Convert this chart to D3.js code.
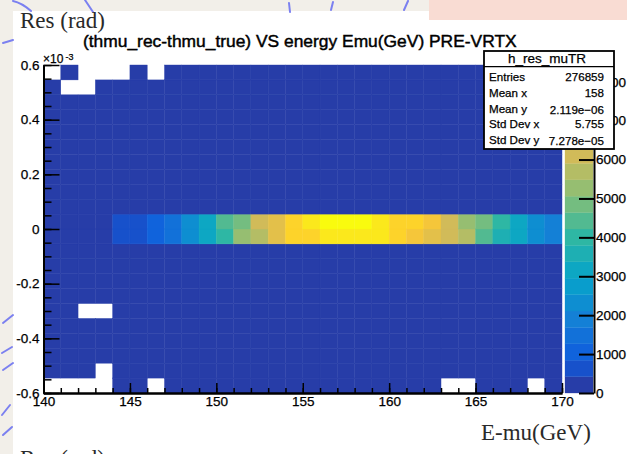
<!DOCTYPE html>
<html>
<head>
<meta charset="utf-8">
<script src="https://cdn.jsdelivr.net/npm/d3@7"></script>
<style>
  html, body { margin: 0; padding: 0; background: #f2efe9; }
  svg { display: block; }
  .root-text { font-family: "Liberation Sans", Arial, sans-serif; fill: #000; stroke: #000; stroke-width: 0.25px; }
  .serif { font-family: "Liberation Serif", "DejaVu Serif", serif; fill: #2a2a2a; }
</style>
</head>
<body>
<svg id="chart" width="627" height="454"></svg>
<script>
// ---- Histogram definition: energy (GeV) vs angular residual (rad) ----
const energyRange = [140, 170];
const energyBinCount = 30;
const resRange = [-0.0006, 0.0006];
const resBinCount = 22;

// Entries in the two residual rows next to zero, energy bins 144 .. 169
const bandFirstBin = 144;
const bandUpperRow = 11;   // residual row just above zero
const bandLowerRow = 10;   // residual row just below zero
const bandUpper = [610, 780, 1020, 1490, 2290, 3120, 4390, 4900, 6050, 6580, 7350, 7720, 8120,
                   8430, 8260, 7880, 7460, 7310, 6900, 6200, 5300, 4820, 3990, 3210, 2400, 1900];
const bandLower = [590, 760, 1000, 1460, 2270, 3100, 4100, 5250, 5720, 6500, 7300, 7500, 7700,
                   7800, 7850, 7650, 7420, 6880, 6600, 6150, 5600, 4450, 3600, 3150, 2350, 1880];

// Typical content of the sparsely populated tail bins
const tailCount = 28;
// Bins without entries: [energy bin low edge (GeV), residual row]
const emptyBins = [
  [140, 21], [142, 21], [143, 21], [144, 21], [146, 21],
  [141, 20], [142, 20],
  [142, 5], [143, 5],
  [143, 1],
  [140, 0], [141, 0], [142, 0], [143, 0], [146, 0], [163, 0], [164, 0], [168, 0]
];

// Axis ticks
const energyTicks = [140, 145, 150, 155, 160, 165, 170];
const resTicks = [-0.0006, -0.0004, -0.0002, 0, 0.0002, 0.0004, 0.0006];
const resTickLabels = ["-0.6", "-0.4", "-0.2", "0", "0.2", "0.4", "0.6"];
const countTicks = [0, 1000, 2000, 3000, 4000, 5000, 6000, 7000, 8000];

// Statistics box
const statsName = "h_res_muTR";
const statsLabels = ["Entries", "Mean x", "Mean y", "Std Dev x", "Std Dev y"];
const statsValues = ["276859", "158", "2.119e\u221206", "5.755", "7.278e\u221205"];

// ROOT "bird" palette stops
const birdStops = [0.0000, 0.1250, 0.2500, 0.3750, 0.5000, 0.6250, 0.7500, 0.8750, 1.0000];
const birdRed   = [0.2082, 0.0592, 0.0780, 0.0232, 0.1802, 0.5301, 0.8186, 0.9956, 0.9764];
const birdGreen = [0.1664, 0.3599, 0.5041, 0.6419, 0.7178, 0.7492, 0.7328, 0.7862, 0.9832];
const birdBlue  = [0.5293, 0.8684, 0.8385, 0.7914, 0.6425, 0.4662, 0.3499, 0.1968, 0.0539];

// ---- Layout ----
const W = 627, H = 454;
const frame = { left: 43.5, right: 562, top: 65, bottom: 393 };
const bar = { left: 565, right: 593, axis: 594 };

const svg = d3.select("#chart");

// Page backdrop: slide panel, accent block and dashed ornaments
svg.append("rect").attr("x", 0).attr("y", 0).attr("width", W).attr("height", H).attr("fill", "#f2efe9");
svg.append("rect").attr("x", 13).attr("y", 11).attr("width", W - 13).attr("height", H - 11).attr("fill", "#ffffff");
svg.append("rect").attr("x", 429).attr("y", 0).attr("width", W - 429).attr("height", 20).attr("fill", "#f9dcd3");

const ornaments = [
  "M13,1 Q22,3 31,11", "M85,0 L93,12", "M3,43 L13,40",
  "M289,3 L290,12", "M333,2 L331,10", "M408,1 L404,10",
  "M3,323 L13,315", "M2,353 L12,347", "M3,370 L13,363", "M2,415 L10,405", "M3,435 L12,427"
];
svg.append("g").selectAll("path").data(ornaments).join("path")
  .attr("d", d => d)
  .attr("fill", "none").attr("stroke", "#7b80f0").attr("stroke-width", 2).attr("stroke-linecap", "round");

// Serif slide captions
svg.append("text").attr("class", "serif").attr("x", 20).attr("y", 28).attr("font-size", 23).text("Res (rad)");
svg.append("text").attr("class", "serif").attr("x", 481).attr("y", 440).attr("font-size", 23).text("E-mu(GeV)");
svg.append("text").attr("class", "serif").attr("x", 20).attr("y", 466).attr("font-size", 23).text("Res (rad)");

// ---- Scales ----
const x = d3.scaleLinear().domain(energyRange).range([frame.left, frame.right]);
const y = d3.scaleLinear().domain(resRange).range([frame.bottom, frame.top]);

const bird = d3.scaleLinear()
  .domain(birdStops)
  .range(birdStops.map((s, i) => d3.rgb(birdRed[i] * 255, birdGreen[i] * 255, birdBlue[i] * 255)))
  .interpolate(d3.interpolateRgb);
const nLevels = 20;
const levelColors = d3.range(nLevels).map(i => bird(Math.floor((i + 0.99) * 255 / nLevels) / 254));
const zMax = d3.max(bandUpper.concat(bandLower));
const colour = d3.scaleQuantize().domain([0, zMax]).range(levelColors);
const z = d3.scaleLinear().domain([0, zMax]).range([frame.bottom, frame.top]);

// ---- Bin contents ----
const eWidth = (energyRange[1] - energyRange[0]) / energyBinCount;
const rWidth = (resRange[1] - resRange[0]) / resBinCount;
const emptySet = new Set(emptyBins.map(d => d[0] + ":" + d[1]));
const cells = [];
for (let i = 0; i < energyBinCount; i++) {
  const e0 = energyRange[0] + i * eWidth;
  for (let j = 0; j < resBinCount; j++) {
    const r0 = resRange[0] + j * rWidth;
    let v = tailCount;
    if (emptySet.has(e0 + ":" + j)) v = 0;
    else if (e0 >= bandFirstBin && j === bandUpperRow) v = bandUpper[Math.round(e0 - bandFirstBin)];
    else if (e0 >= bandFirstBin && j === bandLowerRow) v = bandLower[Math.round(e0 - bandFirstBin)];
    cells.push({ e0, e1: e0 + eWidth, r0, r1: r0 + rWidth, v });
  }
}

svg.append("g").selectAll("rect").data(cells.filter(d => d.v > 0)).join("rect")
  .attr("x", d => x(d.e0))
  .attr("y", d => y(d.r1))
  .attr("width", d => x(d.e1) - x(d.e0))
  .attr("height", d => y(d.r0) - y(d.r1))
  .attr("fill", d => colour(d.v))
  .attr("stroke", d => colour(d.v))
  .attr("stroke-width", 0.4);

// ---- Axes (ROOT style: ticks inside the frame) ----
function styleAxis(g, width) {
  g.selectAll(".domain").attr("stroke", "#000").attr("stroke-width", 2);
  g.selectAll(".tick line").attr("stroke", "#000").attr("stroke-width", width);
  g.selectAll("text").attr("class", "root-text").attr("fill", "#000").attr("font-size", 13.5)
    .attr("font-family", "Liberation Sans, Arial, sans-serif");
}

const minorEnergy = d3.range(energyRange[0], energyRange[1] + 1, 1);
svg.append("g").attr("transform", `translate(0,${frame.bottom})`)
  .call(d3.axisBottom(x).tickValues(minorEnergy).tickSize(-5).tickSizeOuter(0).tickFormat(""))
  .call(g => styleAxis(g, 1.5));
svg.append("g").attr("transform", `translate(0,${frame.bottom})`)
  .call(d3.axisBottom(x).tickValues(energyTicks).tickSize(-10).tickSizeOuter(0).tickPadding(3).tickFormat(d3.format("d")))
  .call(g => styleAxis(g, 1.5));

const minorRes = d3.range(-12, 13).map(k => k * 0.00005);
svg.append("g").attr("transform", `translate(${frame.left},0)`)
  .call(d3.axisLeft(y).tickValues(minorRes).tickSize(-8).tickSizeOuter(0).tickFormat(""))
  .call(g => styleAxis(g, 1.5));
svg.append("g").attr("transform", `translate(${frame.left},0)`)
  .call(d3.axisLeft(y).tickValues(resTicks).tickSize(-16).tickSizeOuter(0).tickPadding(4)
    .tickFormat((d, i) => resTickLabels[i]))
  .call(g => styleAxis(g, 1.5));

// Axis exponent
svg.append("text").attr("class", "root-text").attr("x", 43).attr("y", 63).attr("font-size", 12).text("\u00d710");
svg.append("text").attr("class", "root-text").attr("x", 65.5).attr("y", 60).attr("font-size", 9).text("-3");

// ---- Colour bar ----
const bounds = [0].concat(colour.thresholds(), [zMax]);
svg.append("g").selectAll("rect").data(d3.range(nLevels)).join("rect")
  .attr("x", bar.left)
  .attr("y", i => z(bounds[i + 1]))
  .attr("width", bar.right - bar.left)
  .attr("height", i => z(bounds[i]) - z(bounds[i + 1]))
  .attr("fill", i => levelColors[i])
  .attr("stroke", i => levelColors[i])
  .attr("stroke-width", 0.3);
svg.append("g").attr("transform", `translate(${bar.axis},0)`)
  .call(d3.axisRight(z).tickValues(countTicks).tickSize(-15).tickSizeOuter(0).tickPadding(2).tickFormat(d3.format("d")))
  .call(g => styleAxis(g, 2));

// ---- Title ----
svg.append("text").attr("class", "root-text").attr("x", 83).attr("y", 47).attr("font-size", 17.4)
  .style("stroke-width", "0.45px")
  .text("(thmu_rec-thmu_true) VS energy Emu(GeV) PRE-VRTX");

// ---- Statistics box ----
const sb = { x: 484, y: 51, w: 130, h: 98, header: 66.7 };
const stat = svg.append("g");
stat.append("rect").attr("x", sb.x).attr("y", sb.y).attr("width", sb.w).attr("height", sb.h)
  .attr("fill", "#fff").attr("stroke", "#000").attr("stroke-width", 1.8);
stat.append("line").attr("x1", sb.x).attr("x2", sb.x + sb.w).attr("y1", sb.header).attr("y2", sb.header)
  .attr("stroke", "#000").attr("stroke-width", 1.2);
stat.append("text").attr("class", "root-text").attr("x", 547).attr("y", 63).attr("font-size", 13.5)
  .attr("text-anchor", "middle").text(statsName);
const rowY = d3.scalePoint().domain(statsLabels).range([81, 144]);
stat.selectAll("text.lbl").data(statsLabels).join("text")
  .attr("class", "root-text lbl").attr("x", 489).attr("y", d => rowY(d)).attr("font-size", 11.6).text(d => d);
stat.selectAll("text.val").data(statsValues).join("text")
  .attr("class", "root-text val").attr("x", 604).attr("y", (d, i) => rowY(statsLabels[i]) + (i === 2 || i === 4 ? 1 : 0))
  .attr("font-size", 11.6).attr("text-anchor", "end").text(d => d);
</script>
</body>
</html>
